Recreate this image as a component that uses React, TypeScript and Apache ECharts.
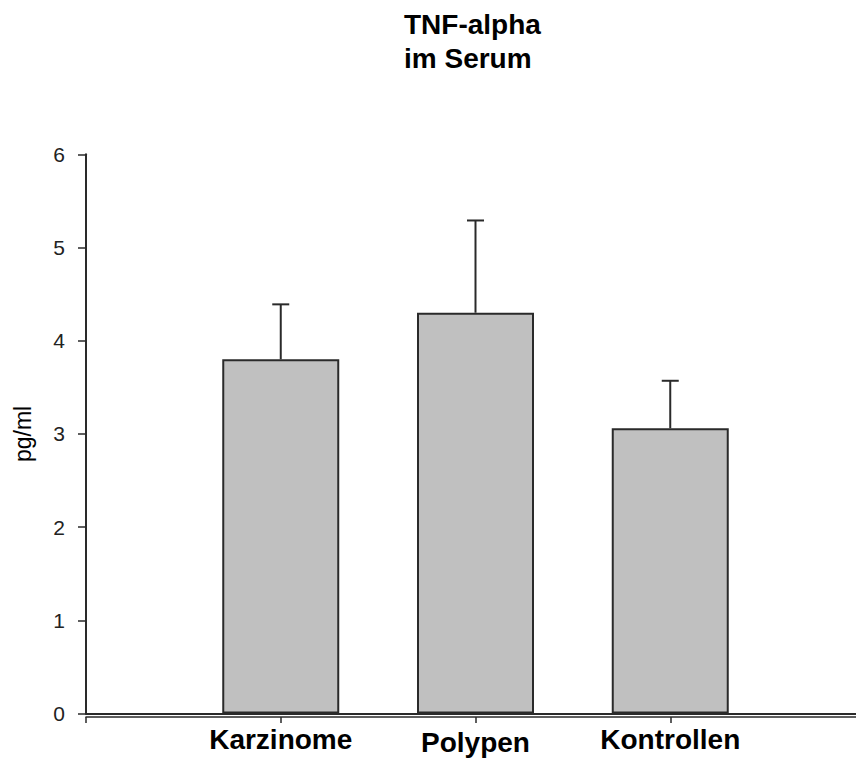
import React, { useEffect, useRef } from "react";
import * as echarts from "echarts";

const categories = ["", "Karzinome", "Polypen", "Kontrollen", ""];
const means = [null, 3.8, 4.3, 3.06, null];
const upperErrors = [null, 4.39, 5.29, 3.57, null];
const yTicks = [0, 1, 2, 3, 4, 5, 6];
const titleLines = ["TNF-alpha", "im Serum"];
const yName = "pg/ml";

const FONT = "'Liberation Sans', Arial, sans-serif";
const INK = "#2a2a2a";

export default function App() {
  const ref = useRef<HTMLDivElement>(null);
  useEffect(() => {
    if (!ref.current) return;
    const chart = echarts.init(ref.current, undefined, { renderer: "svg" });
    const errData = categories
      .map((c, i) => (means[i] == null ? null : [i, means[i], upperErrors[i]]))
      .filter((d) => d !== null);
    chart.setOption({
      animation: false,
      backgroundColor: "#ffffff",
      title: {
        text: titleLines.join("\n"),
        left: 404,
        top: 7,
        padding: 0,
        textStyle: {
          fontFamily: FONT,
          fontSize: 28,
          fontWeight: "bold",
          lineHeight: 34,
          color: "#000",
        },
      },
      grid: {
        left: 86,
        top: 154.3,
        width: 779,
        height: 559.2,
        containLabel: false,
        outerBoundsMode: "none",
      },
      xAxis: [
        {
          type: "category",
          data: categories,
          boundaryGap: false,
          position: "bottom",
          offset: 0,
          axisLine: { show: true, lineStyle: { color: INK, width: 2 } },
          axisTick: { show: false },
          axisLabel: { show: false },
          splitLine: { show: false },
        },
        {
          type: "category",
          data: categories,
          boundaryGap: false,
          position: "bottom",
          offset: 3.5,
          axisLine: { show: true, lineStyle: { color: INK, width: 1.5 } },
          axisTick: { show: true, length: 6, lineStyle: { color: INK, width: 1.5 } },
          axisLabel: {
            show: true,
            interval: 0,
            margin: 5,
            fontFamily: FONT,
            fontSize: 28,
            fontWeight: "bold",
            lineHeight: 34,
            color: "#000",
            formatter: (v: string) => (v === "Polypen" ? "{low|" + v + "}" : "{n|" + v + "}"),
            rich: {
              n: { fontFamily: FONT, fontSize: 28, fontWeight: "bold", lineHeight: 34, color: "#000" },
              low: {
                fontFamily: FONT,
                fontSize: 28,
                fontWeight: "bold",
                lineHeight: 34,
                color: "#000",
                padding: [6, 0, 0, 0],
              },
            },
          },
          splitLine: { show: false },
        },
      ],
      yAxis: {
        type: "value",
        min: yTicks[0],
        max: yTicks[yTicks.length - 1],
        interval: 1,
        name: yName,
        nameLocation: "middle",
        nameGap: 52,
        nameRotate: 90,
        nameTextStyle: { fontFamily: FONT, fontSize: 23, color: "#000" },
        axisLine: { show: true, lineStyle: { color: INK, width: 2 } },
        axisTick: { show: true, length: 8, lineStyle: { color: INK, width: 1.5 } },
        axisLabel: { margin: 21, fontFamily: FONT, fontSize: 21, color: "#222" },
        splitLine: { show: false },
      },
      series: [
        {
          type: "bar",
          xAxisIndex: 0,
          data: means,
          barWidth: 117,
          itemStyle: { color: "#c0c0c0", borderColor: INK, borderWidth: 2 },
          z: 2,
        },
        {
          type: "custom",
          xAxisIndex: 0,
          data: errData,
          z: 3,
          renderItem: (params: any, api: any) => {
            const x = api.value(0);
            const lo = api.coord([x, api.value(1)]);
            const hi = api.coord([x, api.value(2)]);
            const half = 8.5;
            return {
              type: "group",
              children: [
                {
                  type: "line",
                  shape: { x1: lo[0], y1: lo[1], x2: hi[0], y2: hi[1] },
                  style: { stroke: INK, lineWidth: 2 },
                },
                {
                  type: "line",
                  shape: { x1: hi[0] - half, y1: hi[1], x2: hi[0] + half, y2: hi[1] },
                  style: { stroke: INK, lineWidth: 2 },
                },
              ],
            };
          },
        },
      ],
    });
    return () => chart.dispose();
  }, []);
  return (
    <div
      ref={ref}
      style={{ position: "fixed", left: 0, top: 0, width: 856, height: 762, background: "#fff" }}
    />
  );
}
